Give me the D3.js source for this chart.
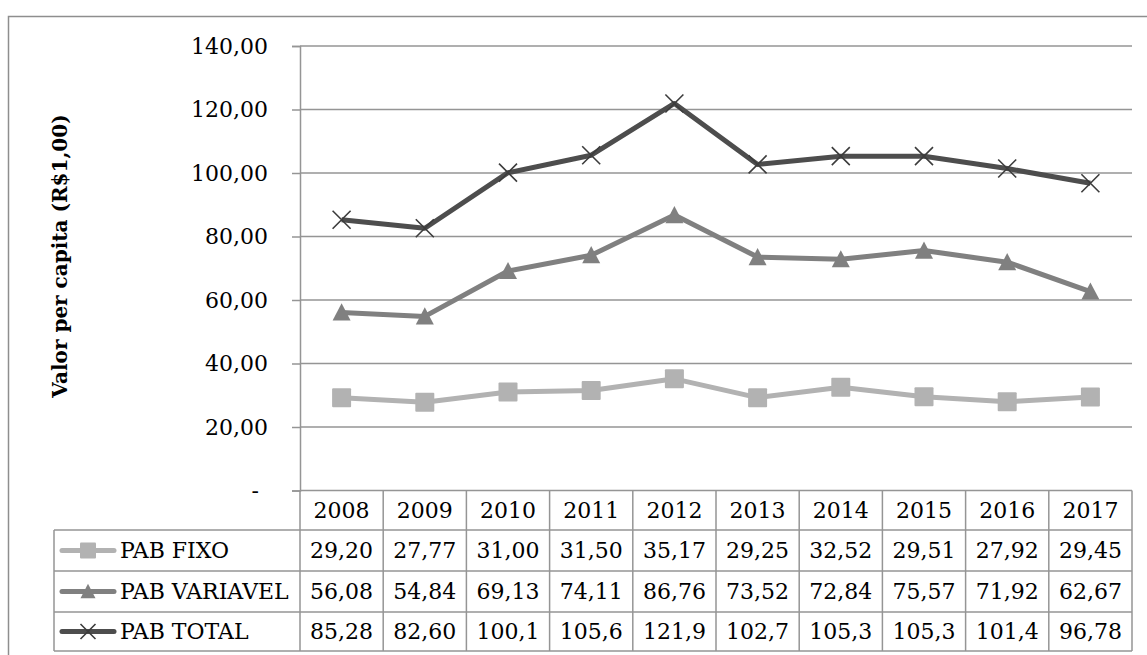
<!DOCTYPE html>
<html>
<head>
<meta charset="utf-8">
<script src="https://cdn.jsdelivr.net/npm/d3@7/dist/d3.min.js"></script>
<style>
  html, body { margin: 0; padding: 0; background: #fff; }
  svg { display: block; }
  text { font-family: "DejaVu Serif", "Liberation Serif", serif; fill: #000; }
</style>
</head>
<body>
<svg id="chart" width="1147" height="655"></svg>
<script>
// PAB per-capita values, 2008–2017
const years = ["2008","2009","2010","2011","2012","2013","2014","2015","2016","2017"];
const pabFixo = [29.20, 27.77, 31.00, 31.50, 35.17, 29.25, 32.52, 29.51, 27.92, 29.45];
const pabVariavel = [56.08, 54.84, 69.13, 74.11, 86.76, 73.52, 72.84, 75.57, 71.92, 62.67];
const pabTotal = [85.28, 82.60, 100.1, 105.6, 121.9, 102.7, 105.3, 105.3, 101.4, 96.78];
const seriesNames = ["PAB FIXO", "PAB VARIAVEL", "PAB TOTAL"];
const yTicks = [0, 20, 40, 60, 80, 100, 120, 140];
const yTitle = "Valor per capita (R$1,00)";

const series = [
  { name: seriesNames[0], values: pabFixo, color: "#b2b2b2", marker: "square" },
  { name: seriesNames[1], values: pabVariavel, color: "#808080", marker: "triangle" },
  { name: seriesNames[2], values: pabTotal, color: "#4d4d4d", marker: "x" }
];

const svg = d3.select("#chart");
const grid = "#959595";

// chart frame
svg.append("rect")
  .attr("x", 8.5).attr("y", 16.5).attr("width", 1160).attr("height", 660)
  .attr("fill", "none").attr("stroke", "#8e8e8e").attr("stroke-width", 1.5);

const plotLeft = 300, plotRight = 1132, plotTop = 46, plotBottom = 490.5;

const x = d3.scaleBand().domain(years).range([plotLeft, plotRight]);
const y = d3.scaleLinear().domain([0, 140]).range([plotBottom, plotTop]);

// number formatting with comma decimals, fitting the cell width
const fmt = v => (v >= 100 ? v.toFixed(1) : v.toFixed(2)).replace(".", ",");
const tickFmt = v => v === 0 ? "-" : v.toFixed(2).replace(".", ",");

// gridlines and y axis
const yAxis = d3.axisLeft(y).tickValues(yTicks).tickSize(8).tickPadding(24).tickFormat(tickFmt);
const gy = svg.append("g").attr("transform", `translate(${plotLeft},0)`).call(yAxis);
gy.select(".domain").attr("stroke", grid).attr("stroke-width", 1.5);
gy.selectAll(".tick line").attr("stroke", grid).attr("stroke-width", 1.5);
gy.selectAll(".tick text").attr("font-size", 22).attr("font-family", "DejaVu Serif").attr("fill", "#000");
gy.selectAll(".tick").filter(d => d === 0).select("text").attr("dx", -9);

svg.append("g").selectAll("line").data(yTicks).join("line")
  .attr("x1", plotLeft).attr("x2", plotRight)
  .attr("y1", d => y(d)).attr("y2", d => y(d))
  .attr("stroke", grid).attr("stroke-width", 1.5);

// y axis title
svg.append("text")
  .attr("transform", `translate(67,256) rotate(-90)`)
  .attr("text-anchor", "middle")
  .attr("font-size", 20).attr("font-weight", "bold")
  .text(yTitle);

// markers
function drawMarker(g, type, color, size) {
  if (type === "square") {
    g.append("rect").attr("x", -size/2).attr("y", -size/2).attr("width", size).attr("height", size)
      .attr("rx", 1).attr("fill", color);
  } else if (type === "triangle") {
    const h = size * 0.9;
    g.append("path").attr("d", `M0,${-h/2 - 1}L${size/2},${h/2}L${-size/2},${h/2}Z`).attr("fill", color);
  } else {
    const s = size / 2;
    g.append("path").attr("d", `M${-s},${-s}L${s},${s}M${-s},${s}L${s},${-s}`)
      .attr("stroke", "#3c3c3c").attr("stroke-width", 1.6).attr("fill", "none");
  }
}

const line = d3.line().x((d, i) => x(years[i]) + x.bandwidth() / 2).y(d => y(d));

series.forEach(s => {
  svg.append("path").datum(s.values)
    .attr("d", line).attr("fill", "none")
    .attr("stroke", s.color).attr("stroke-width", 5).attr("stroke-linejoin", "round");
  s.values.forEach((v, i) => {
    const g = svg.append("g").attr("transform", `translate(${x(years[i]) + x.bandwidth() / 2},${y(v)})`);
    drawMarker(g, s.marker, s.color, s.marker === "square" ? 19 : 18);
  });
});

// data table below the plot
const rowTops = [plotBottom, 530, 571, 612, 651];
const tableLeft = 54;
const tg = svg.append("g");

// column separators (header + body)
years.forEach((yr, i) => {
  const cx = x(yr);
  if (i > 0) tg.append("line").attr("x1", cx).attr("x2", cx).attr("y1", rowTops[0]).attr("y2", rowTops[4])
    .attr("stroke", grid).attr("stroke-width", 1.5);
});
tg.append("line").attr("x1", plotRight).attr("x2", plotRight).attr("y1", rowTops[0]).attr("y2", rowTops[4])
  .attr("stroke", grid).attr("stroke-width", 1.5);
tg.append("line").attr("x1", plotLeft).attr("x2", plotLeft).attr("y1", rowTops[0]).attr("y2", rowTops[4])
  .attr("stroke", grid).attr("stroke-width", 1.5);
tg.append("line").attr("x1", tableLeft).attr("x2", tableLeft).attr("y1", rowTops[1]).attr("y2", rowTops[4])
  .attr("stroke", grid).attr("stroke-width", 1.5);
[1, 2, 3, 4].forEach(r => {
  tg.append("line").attr("x1", tableLeft).attr("x2", plotRight).attr("y1", rowTops[r]).attr("y2", rowTops[r])
    .attr("stroke", grid).attr("stroke-width", 1.5);
});

// header years
tg.selectAll("text.yr").data(years).join("text").attr("class", "yr")
  .attr("x", d => x(d) + x.bandwidth() / 2)
  .attr("y", (rowTops[0] + rowTops[1]) / 2)
  .attr("dy", "0.36em").attr("text-anchor", "middle").attr("font-size", 22)
  .text(d => d);

// body rows
series.forEach((s, r) => {
  const cy = (rowTops[r + 1] + rowTops[r + 2]) / 2;
  tg.append("line").attr("x1", 62).attr("x2", 114).attr("y1", cy).attr("y2", cy)
    .attr("stroke", s.color).attr("stroke-width", 5).attr("stroke-linecap", "round");
  const g = tg.append("g").attr("transform", `translate(88,${cy})`);
  drawMarker(g, s.marker, s.color, s.marker === "square" ? 16 : 15);
  tg.append("text").attr("x", 120).attr("y", cy).attr("dy", "0.36em").attr("font-size", 22).text(s.name);
  tg.selectAll(null).data(s.values).join("text")
    .attr("x", (d, i) => x(years[i]) + x.bandwidth() / 2)
    .attr("y", cy).attr("dy", "0.36em").attr("text-anchor", "middle").attr("font-size", 22)
    .text(d => fmt(d));
});
</script>
</body>
</html>
